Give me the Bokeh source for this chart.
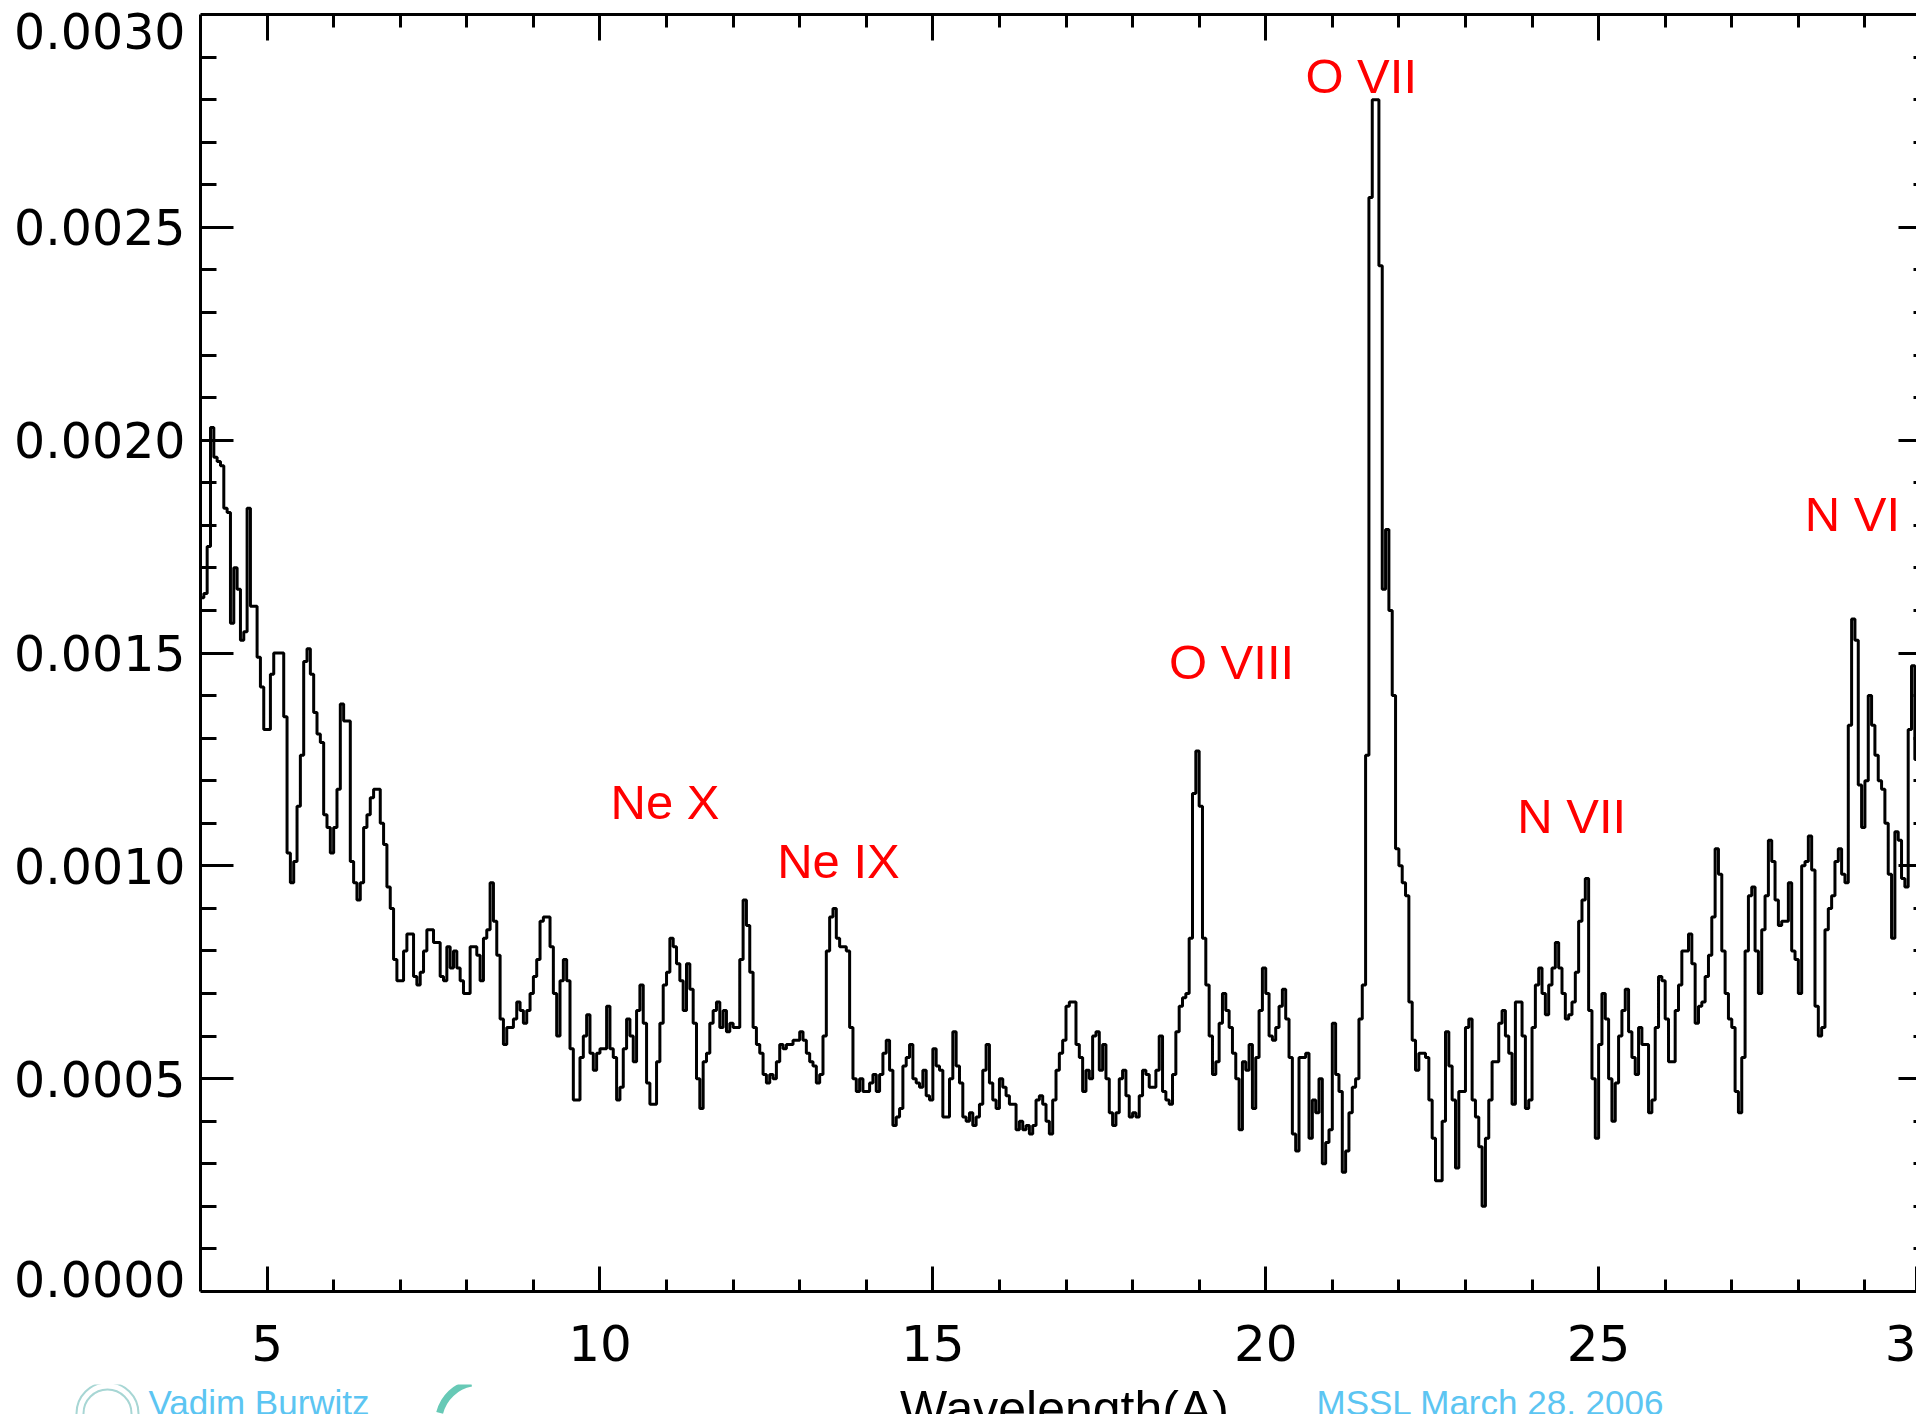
import numpy as np
from bokeh.plotting import figure
from bokeh.layouts import column
from bokeh.models import (Range1d, LinearAxis, FixedTicker, PrintfTickFormatter,
                          CustomLabelingPolicy, ColumnDataSource)
from bokeh.core.properties import value
from bokeh.embed import file_html
from bokeh.resources import INLINE

# ---------------- data (flux in units of 1e-5, bins of 0.05 Angstrom) ----------------
BIN = 0.05
flux_04_09 = [163, 164, 175, 203, 196, 195, 194, 184, 183, 157,
              170, 165, 153, 155, 184, 161, 161, 149, 142, 132,
              132, 145, 150, 150, 150, 135, 103, 96, 101, 114,
              126, 148, 151, 145, 136, 131, 129, 112, 109, 103,
              109, 118, 138, 134, 134, 101, 96, 92, 96, 109,
              112, 116, 118, 118, 110, 105, 95, 90, 78, 73,
              73, 80, 84, 84, 74, 72, 75, 80, 85, 85,
              82, 82, 74, 73, 81, 76, 80, 76, 73, 70,
              70, 81, 81, 79, 73, 83, 85, 96, 87, 79,
              64, 58, 62, 62, 64, 68, 66, 63, 66, 70]
flux_09_14 = [74, 78, 87, 88, 88, 81, 70, 60, 73, 78,
              73, 57, 45, 45, 55, 60, 65, 56, 52, 56,
              57, 57, 67, 57, 55, 45, 48, 57, 64, 60,
              54, 66, 72, 63, 49, 44, 44, 54, 63, 72,
              75, 83, 81, 77, 73, 66, 77, 71, 63, 50,
              43, 54, 56, 63, 66, 68, 62, 66, 61, 63,
              62, 62, 78, 92, 86, 75, 62, 58, 56, 51,
              49, 51, 50, 54, 58, 57, 58, 58, 59, 59,
              61, 59, 56, 54, 53, 49, 51, 60, 80, 88,
              90, 83, 81, 81, 80, 62, 50, 47, 50, 47]
flux_14_19 = [47, 49, 51, 47, 51, 56, 59, 52, 39, 41,
              43, 53, 55, 58, 50, 49, 48, 52, 46, 45,
              57, 53, 52, 41, 41, 50, 61, 53, 49, 41,
              40, 42, 39, 41, 44, 52, 58, 49, 45, 43,
              50, 48, 46, 44, 44, 38, 40, 38, 39, 37,
              39, 45, 46, 44, 40, 37, 45, 52, 56, 59,
              67, 68, 68, 58, 55, 47, 52, 50, 60, 61,
              52, 58, 50, 42, 39, 42, 50, 52, 46, 41,
              42, 41, 46, 52, 51, 48, 48, 52, 60, 47,
              45, 44, 51, 61, 67, 69, 70, 83, 117, 127]
flux_19_24 = [114, 83, 72, 60, 51, 54, 63, 70, 66, 62,
              56, 50, 38, 54, 52, 58, 43, 55, 66, 76,
              70, 60, 59, 62, 67, 71, 64, 55, 37, 33,
              55, 55, 56, 36, 45, 42, 50, 30, 35, 38,
              63, 51, 47, 28, 33, 42, 48, 50, 64, 72,
              126, 257, 280, 280, 241, 165, 179, 160, 140, 104,
              100, 96, 93, 68, 59, 52, 56, 56, 55, 45,
              36, 26, 26, 40, 61, 53, 45, 29, 47, 47,
              62, 64, 45, 41, 34, 20, 36, 45, 54, 54,
              63, 66, 60, 56, 44, 68, 68, 60, 43, 45]
flux_24_29 = [62, 72, 76, 70, 65, 72, 76, 82, 76, 70,
              64, 65, 68, 75, 87, 92, 97, 66, 50, 36,
              58, 70, 64, 50, 40, 49, 60, 66, 71, 61,
              55, 51, 62, 58, 58, 42, 45, 62, 74, 73,
              64, 54, 54, 66, 72, 80, 80, 84, 77, 63,
              67, 68, 74, 79, 88, 104, 98, 80, 70, 64,
              62, 47, 42, 55, 80, 93, 95, 80, 70, 85,
              93, 106, 101, 92, 86, 87, 87, 96, 80, 78,
              70, 100, 101, 107, 99, 67, 60, 62, 85, 90,
              93, 101, 104, 98, 96, 133, 158, 153, 119, 109]
flux_29_30 = [120, 140, 133, 126, 120, 118, 110, 98, 83, 108,
              106, 97, 95, 132, 147, 125]

segments = [(4.0, flux_04_09), (9.0, flux_09_14), (14.0, flux_14_19),
            (19.0, flux_19_24), (24.0, flux_24_29), (29.0, flux_29_30)]

# line identifications: name, label centre wavelength, label centre flux
line_names = ["Ne X", "Ne IX", "O VIII", "O VII", "N VII", "N VI"]
line_label_x = [10.977, 13.583, 19.486, 21.434, 24.596, 28.813]
line_label_y = [0.0011488, 0.0010102, 0.0014789, 0.0028544, 0.0011159, 0.0018277]

x_major = [5, 10, 15, 20, 25]
x_minor = list(range(5, 30))
y_major = [0.0005, 0.0010, 0.0015, 0.0020, 0.0025]
y_minor = [round(0.0001 * i, 4) for i in range(1, 30)]
# the end labels of the y axis sit slightly inside the frame in the original
y_label_pos = [0.0000282, 0.0005, 0.0010, 0.0015, 0.0020, 0.0025, 0.0029601]
# the original is cropped at the right: only the left part of the "30" label shows
edge_label = "3"

footer_texts = ["Vadim Burwitz", "Wavelength(A)", "MSSL  March 28, 2006"]

# build step arrays
wl, fl = [], []
for start, vals in segments:
    for i, v in enumerate(vals):
        wl.append(round(start + BIN * i, 2))
        fl.append(v * 1e-5)
wl.append(round(wl[-1] + BIN, 2))
fl.append(fl[-1])

# ---------------- layout constants (pixels) ----------------
W = 1916                      # the original picture is cropped here
FRAME_L, FRAME_T, FRAME_B = 200, 14, 1291
X30_PX = 1931                 # where 30 A would sit
MAIN_H = 1384
FOOT_H = 1414 - MAIN_H
X0 = 4.0
Y0, Y1 = 0.0, 0.003
PX_X = (X30_PX - FRAME_L) / (30.0 - X0)       # px per Angstrom
PX_Y = (FRAME_B - FRAME_T) / (Y1 - Y0)        # px per flux unit
X1 = X0 + (W - FRAME_L) / PX_X

def lam(px):
    return X0 + (px - FRAME_L) / PX_X

def flx(py):
    return (FRAME_B - py) / PX_Y

# ---------------- main figure ----------------
p = figure(width=W, height=MAIN_H, output_backend="svg", toolbar_location=None,
           x_range=Range1d(X0, X1), y_range=Range1d(Y0, Y1),
           x_axis_location=None, y_axis_location=None,
           min_border_left=FRAME_L, min_border_right=0, min_border_top=FRAME_T,
           min_border_bottom=MAIN_H - FRAME_B)
p.outline_line_color = None
p.grid.visible = False
p.background_fill_color = "white"
p.border_fill_color = "white"

TICK_FONT = "DejaVu Sans"

def hide_labels(ax):
    ax.major_label_text_font_size = "0px"
    ax.major_label_standoff = 0
    ax.major_label_policy = CustomLabelingPolicy(code="return []")

def ticks(ax, maj_in, min_in, line=True):
    ax.major_tick_in = maj_in
    ax.major_tick_out = 0
    ax.minor_tick_in = min_in
    ax.minor_tick_out = 0
    ax.major_tick_line_width = 3
    ax.minor_tick_line_width = 3
    ax.major_tick_line_color = "black"
    ax.minor_tick_line_color = "black"
    ax.axis_line_width = 3
    ax.axis_line_color = "black" if line else None

# bottom axis with labels (last tick at the cropped edge)
xb = LinearAxis(ticker=FixedTicker(ticks=x_major + [X1], minor_ticks=x_minor),
                formatter=PrintfTickFormatter(format="%d"))
xb.major_label_overrides = {X1: edge_label}
ticks(xb, 25, 12)
xb.major_label_text_font = TICK_FONT
xb.major_label_text_font_size = "50px"
xb.major_label_text_color = "black"
xb.major_label_standoff = 33
p.add_layout(xb, "below")

# top axis (ticks only)
xt = LinearAxis(ticker=FixedTicker(ticks=x_major, minor_ticks=x_minor))
ticks(xt, 26, 13)
hide_labels(xt)
p.add_layout(xt, "above")

# left axis: ticks
yl = LinearAxis(ticker=FixedTicker(ticks=y_major, minor_ticks=y_minor))
ticks(yl, 33, 16)
hide_labels(yl)
p.add_layout(yl, "left")

# left axis: labels
yll = LinearAxis(ticker=FixedTicker(ticks=y_label_pos, minor_ticks=[]),
                 formatter=PrintfTickFormatter(format="%.4f"))
yll.major_tick_line_color = None
yll.minor_tick_line_color = None
yll.axis_line_color = None
yll.major_tick_out = 0
yll.major_tick_in = 0
yll.major_label_standoff = 15
yll.major_label_text_font = TICK_FONT
yll.major_label_text_font_size = "49px"
yll.major_label_text_color = "black"
p.add_layout(yll, "left")

# right axis: it lies beyond the crop, only the inner ends of its ticks show
yr = LinearAxis(ticker=FixedTicker(ticks=y_major, minor_ticks=y_minor))
ticks(yr, 18, 3, line=False)
hide_labels(yr)
p.add_layout(yr, "right")

# spectrum
p.step(wl, fl, mode="after", line_color="black", line_width=3)

# line labels
lab_src = ColumnDataSource(dict(x=line_label_x, y=line_label_y, t=line_names))
p.text(x="x", y="y", text="t", source=lab_src, text_align="center",
       text_baseline="middle", text_font=value("Liberation Sans"),
       text_font_size="49px", text_color="red")

# ---------------- footer (cut by the lower edge, as in the original) ----------------
f = figure(width=W, height=FOOT_H, output_backend="svg", toolbar_location=None,
           x_range=Range1d(lam(0), lam(W)), y_range=Range1d(flx(1414), flx(MAIN_H)),
           x_axis_location=None, y_axis_location=None, min_border=0,
           min_border_left=0, min_border_right=0, min_border_top=0, min_border_bottom=0)
f.outline_line_color = None
f.grid.visible = False
f.background_fill_color = "white"
f.border_fill_color = "white"
for fig in (p, f):
    try:
        fig.frame_align = False
    except Exception:
        pass

CYAN = "#5cc5f2"
f.text(x=[lam(148)], y=[flx(1402)], text=[footer_texts[0]], text_align="left",
       text_baseline="middle", text_font=value("Liberation Sans"),
       text_font_size="35px", text_color=CYAN)
f.text(x=[lam(1064)], y=[flx(1408)], text=[footer_texts[1]], text_align="center",
       text_baseline="middle", text_font=value("Liberation Sans"),
       text_font_size="50px", text_color="black")
f.text(x=[lam(1316)], y=[flx(1402)], text=[footer_texts[2]], text_align="left",
       text_baseline="middle", text_font=value("Liberation Sans"),
       text_font_size="35px", text_color=CYAN)
# logos (rough)
f.scatter(x=[lam(107)] * 2, y=[flx(1413)] * 2, size=[62, 48], marker="circle",
          fill_color=None, line_color="#a7d6d4", line_width=2)
f.arc(x=[lam(478)], y=[flx(1422)], radius=[40 / PX_X], start_angle=1.75, end_angle=2.9,
      line_color="#67c9b6", line_width=7)

layout = column(p, f, spacing=0)
open("out.html", "w").write(file_html(layout, INLINE))
